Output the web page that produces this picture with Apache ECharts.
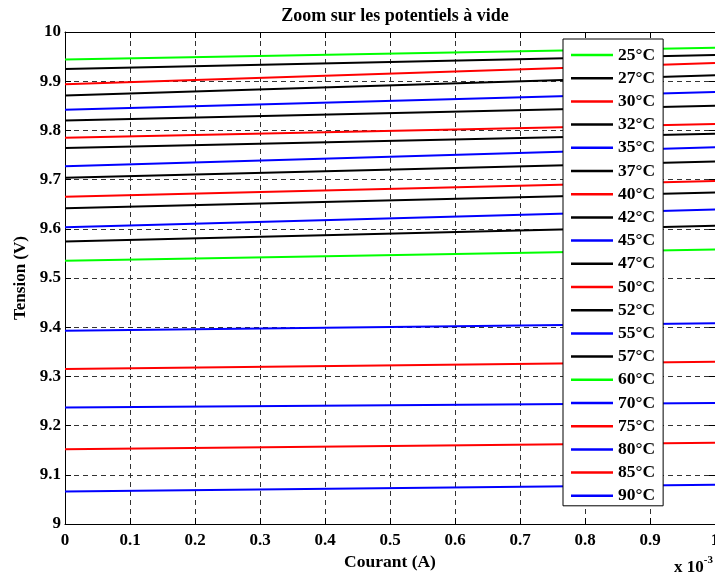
<!DOCTYPE html>
<html>
<head>
<meta charset="utf-8">
<script src="https://cdn.jsdelivr.net/npm/echarts@6/dist/echarts.min.js"></script>
<style>html,body{margin:0;padding:0;background:#fff}#c{width:715px;height:574px}</style>
</head>
<body>
<div id="c"></div>
<script>
const temps = ['25°C','27°C','30°C','32°C','35°C','37°C','40°C','42°C','45°C','47°C','50°C','52°C','55°C','57°C','60°C','70°C','75°C','80°C','85°C','90°C'];
const currentX = [0, 1];
const startV = [9.944,9.925,9.894,9.871,9.842,9.820,9.785,9.764,9.727,9.704,9.665,9.642,9.603,9.574,9.535,9.393,9.315,9.237,9.152,9.066];
const endV   = [9.968,9.953,9.937,9.912,9.878,9.850,9.813,9.793,9.766,9.737,9.697,9.674,9.639,9.606,9.558,9.408,9.330,9.246,9.165,9.080];
const lineColors = ['#00ff00','#000000','#ff0000','#000000','#0000ff','#000000','#ff0000','#000000','#0000ff','#000000','#ff0000','#000000','#0000ff','#000000','#00ff00','#0000ff','#ff0000','#0000ff','#ff0000','#0000ff'];

const FONT = 'Liberation Serif';
const chart = echarts.init(document.getElementById('c'));
const series = temps.map((t, i) => ({
  name: t,
  type: 'line',
  symbol: 'none',
  z: 3,
  lineStyle: { color: lineColors[i], width: 2 },
  itemStyle: { color: lineColors[i] },
  data: currentX.map((x, k) => [x, k === 0 ? startV[i] : endV[i]])
}));
const axisTxt = { fontFamily: FONT, fontWeight: 'bold', fontSize: 17, color: '#000' };
chart.setOption({
  animation: false,
  backgroundColor: '#fff',
  title: {
    text: 'Zoom sur les potentiels à vide',
    left: 390, top: 2, textAlign: 'center',
    textStyle: { fontFamily: FONT, fontWeight: 'bold', fontSize: 18, color: '#000' }
  },
  grid: { left: 65, right: 0, top: 32, bottom: 50, containLabel: false, outerBoundsMode: 'none' },
  legend: {
    orient: 'vertical',
    left: 563, top: 39,
    data: temps,
    icon: 'rect',
    itemWidth: 42, itemHeight: 2.5,
    itemGap: 5.2,
    padding: [7, 8, 1, 8],
    backgroundColor: '#fff',
    borderColor: '#000', borderWidth: 1,
    textStyle: { fontFamily: FONT, fontWeight: 'bold', fontSize: 17.5, color: '#000', lineHeight: 18 }
  },
  xAxis: [{
    type: 'value', min: 0, max: 1, interval: 0.1,
    name: 'Courant (A)', nameLocation: 'middle', nameGap: 26,
    nameTextStyle: Object.assign({}, axisTxt, { fontSize: 17.5 }),
    axisLine: { show: true, onZero: false, lineStyle: { color: '#000', width: 1 } },
    axisTick: { show: true, inside: true, length: 6, lineStyle: { color: '#000' } },
    axisLabel: Object.assign({ margin: 8 }, axisTxt),
    splitLine: { show: true, lineStyle: { color: '#333', width: 1, type: [5, 4] } }
  }, {
    type: 'value', min: 0, max: 1, interval: 0.1, position: 'top',
    axisLine: { show: true, onZero: false, lineStyle: { color: '#000', width: 1 } },
    axisTick: { show: true, inside: true, length: 6, lineStyle: { color: '#000' } },
    axisLabel: { show: false }, splitLine: { show: false }
  }],
  yAxis: [{
    type: 'value', min: 9, max: 10, interval: 0.1,
    name: 'Tension (V)', nameLocation: 'middle', nameGap: 33,
    nameTextStyle: axisTxt,
    axisLine: { show: true, onZero: false, lineStyle: { color: '#000', width: 1 } },
    axisTick: { show: true, inside: true, length: 6, lineStyle: { color: '#000' } },
    axisLabel: Object.assign({ margin: 4 }, axisTxt),
    splitLine: { show: true, lineStyle: { color: '#333', width: 1, type: [5, 4] } }
  }, {
    type: 'value', min: 9, max: 10, interval: 0.1, position: 'right',
    axisLine: { show: true, onZero: false, lineStyle: { color: '#000', width: 1 } },
    axisTick: { show: true, inside: true, length: 6, lineStyle: { color: '#000' } },
    axisLabel: { show: false }, splitLine: { show: false }
  }],
  graphic: [{
    type: 'text', left: 674, top: 555,
    style: {
      text: '{b|x 10}{s|-3}',
      rich: {
        b: { fontFamily: FONT, fontWeight: 'bold', fontSize: 17, fill: '#000', padding: [8, 0, 0, 0] },
        s: { fontFamily: FONT, fontWeight: 'bold', fontSize: 11, fill: '#000', padding: [0, 0, 6, 0] }
      }
    }
  }],
  series: series
});
</script>
</body>
</html>
